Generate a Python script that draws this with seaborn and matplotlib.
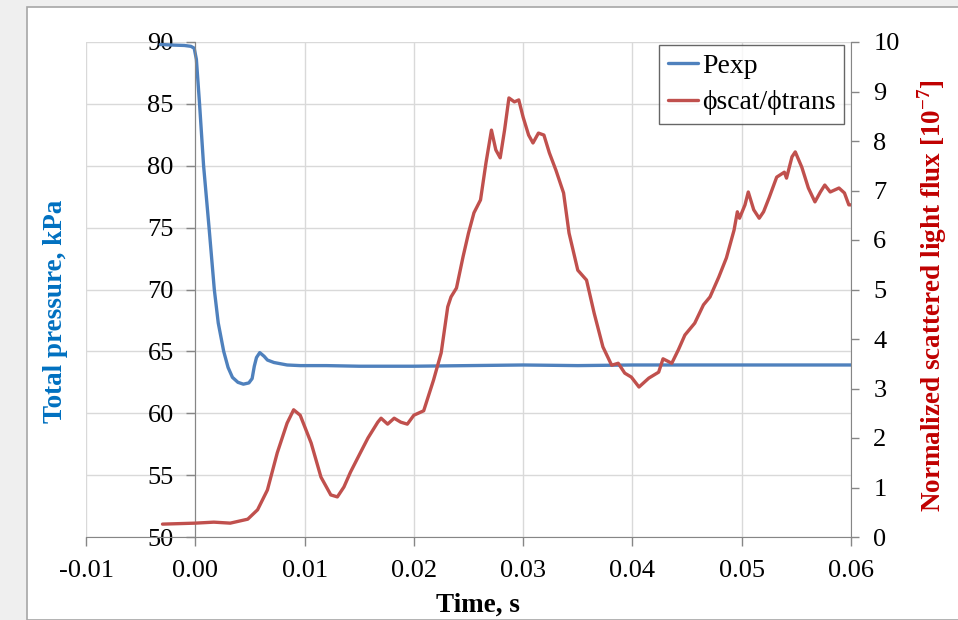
import pandas as pd
import numpy as np
import matplotlib
matplotlib.use('Agg')
import matplotlib.pyplot as plt
from matplotlib.patches import Rectangle
import seaborn as sns

# blue curve: total pressure (kPa)
t_pexp = [-0.0032, -0.002, -0.001, -0.0004, -0.0001, 0.0001, 0.00039, 0.00076, 0.00126, 0.00174,
          0.0021, 0.0026, 0.0030, 0.0034, 0.0039, 0.0044, 0.0049, 0.0052, 0.0054, 0.0056,
          0.0059, 0.0063, 0.0066, 0.0072, 0.0084, 0.0096, 0.012, 0.015, 0.02, 0.025,
          0.03, 0.035, 0.04, 0.045, 0.05, 0.055, 0.06]
p_exp = [89.8, 89.75, 89.72, 89.65, 89.5, 88.6, 85.0, 80.0, 75.0, 70.0,
         67.3, 65.0, 63.7, 62.9, 62.5, 62.35, 62.45, 62.8, 63.8, 64.5,
         64.9, 64.6, 64.3, 64.1, 63.9, 63.85, 63.85, 63.8, 63.8, 63.85,
         63.9, 63.85, 63.9, 63.9, 63.9, 63.9, 63.9]

# red curve: normalized scattered light flux (1e-7)
t_scat = [-0.0030, -0.0015, 0.0, 0.0017, 0.0032, 0.0048, 0.0057, 0.0066, 0.0075, 0.0084,
          0.0090, 0.0096, 0.0106, 0.0115, 0.0124, 0.0130, 0.0136, 0.0142, 0.0151, 0.0158,
          0.0167, 0.0170, 0.0176, 0.0182, 0.0188, 0.0194, 0.0200, 0.0209, 0.0218, 0.0225,
          0.0231, 0.0234, 0.0239, 0.0245, 0.0250, 0.0255, 0.0261, 0.0266, 0.0271, 0.0275,
          0.0279, 0.0283, 0.0287, 0.0292, 0.0296, 0.0300, 0.0305, 0.0309, 0.0314, 0.0319,
          0.0324, 0.0330, 0.0337, 0.0342, 0.0350, 0.0358, 0.0365, 0.0373, 0.0381, 0.0387,
          0.0393, 0.0399, 0.0406, 0.0415, 0.0424, 0.0428, 0.0436, 0.0442, 0.0448, 0.0457,
          0.0465, 0.0471, 0.0479, 0.0486, 0.0493, 0.0496, 0.0498, 0.0503, 0.0506, 0.0511,
          0.0516, 0.0520, 0.0525, 0.0532, 0.0539, 0.0541, 0.0546, 0.0549, 0.0555, 0.0561,
          0.0567, 0.0572, 0.0576, 0.0581, 0.0589, 0.0594, 0.0598, 0.0600]
scat_ratio = [0.26, 0.27, 0.28, 0.30, 0.28, 0.36, 0.55, 0.95, 1.70, 2.30,
              2.57, 2.46, 1.90, 1.21, 0.85, 0.81, 1.01, 1.31, 1.70, 2.00,
              2.32, 2.40, 2.28, 2.40, 2.32, 2.28, 2.46, 2.55, 3.17, 3.72,
              4.65, 4.85, 5.03, 5.66, 6.14, 6.55, 6.81, 7.56, 8.22, 7.82,
              7.66, 8.22, 8.87, 8.79, 8.83, 8.48, 8.12, 7.96, 8.16, 8.12,
              7.76, 7.41, 6.95, 6.14, 5.39, 5.19, 4.52, 3.84, 3.47, 3.51,
              3.31, 3.23, 3.03, 3.21, 3.33, 3.60, 3.51, 3.78, 4.08, 4.32,
              4.69, 4.85, 5.25, 5.64, 6.20, 6.57, 6.44, 6.71, 6.97, 6.61,
              6.44, 6.57, 6.85, 7.27, 7.37, 7.25, 7.68, 7.78, 7.47, 7.05,
              6.77, 6.97, 7.11, 6.97, 7.05, 6.95, 6.71, 6.71]

x_ticks = [-0.01, 0.0, 0.01, 0.02, 0.03, 0.04, 0.05, 0.06]
x_labels = ['-0.01', '0.00', '0.01', '0.02', '0.03', '0.04', '0.05', '0.06']
left_ticks = [50, 55, 60, 65, 70, 75, 80, 85, 90]
right_ticks = [0, 1, 2, 3, 4, 5, 6, 7, 8, 9, 10]

sns.set_style('white')
plt.rcParams['font.family'] = ['Liberation Serif', 'DejaVu Serif']
plt.rcParams['mathtext.fontset'] = 'custom'
plt.rcParams['mathtext.rm'] = 'Liberation Serif'
plt.rcParams['mathtext.bf'] = 'Liberation Serif:bold'
plt.rcParams['axes.unicode_minus'] = False
plt.rcParams['text.color'] = 'black'
plt.rcParams['xtick.color'] = 'black'
plt.rcParams['ytick.color'] = 'black'

df_p = pd.DataFrame({'t': t_pexp, 'p': p_exp})
df_s = pd.DataFrame({'t': t_scat, 's': scat_ratio})

fig = plt.figure(figsize=(9.58, 6.2), dpi=100)
fig.patch.set_facecolor('#EFEFEF')
fig.patches.append(Rectangle((27 / 958, 0), 1, 1 - 7 / 620, transform=fig.transFigure,
                             facecolor='white', edgecolor='#A6A6A6', linewidth=1.2, zorder=-10))

ax = fig.add_axes([86 / 958, 83 / 620, 765 / 958, 495 / 620])
ax.set_facecolor('none')
ax2 = ax.twinx()

blue = '#4F81BD'
red = '#C0504D'
sns.lineplot(data=df_p, x='t', y='p', ax=ax, color=blue, linewidth=2.4, estimator=None, label='Pexp', legend=False)
sns.lineplot(data=df_s, x='t', y='s', ax=ax2, color=red, linewidth=2.4, estimator=None, label='ϕscat/ϕtrans', legend=False)

ax.set_xlim(-0.01, 0.06)
ax.set_ylim(50, 90)
ax2.set_ylim(0, 10)
ax.set_xticks(x_ticks)
ax.set_xticklabels(x_labels)
ax.set_yticks(left_ticks)
ax2.set_yticks(right_ticks)

ax.grid(True, color='#D9D9D9', linewidth=1.0)
ax2.grid(False)

for s in ['top', 'right']:
    ax.spines[s].set_visible(False)
ax.spines['left'].set_position(('data', 0))
ax.spines['left'].set_color('#868686')
ax.spines['bottom'].set_color('#868686')
for s in ['top', 'left', 'bottom']:
    ax2.spines[s].set_visible(False)
ax2.spines['right'].set_color('#868686')

ax.tick_params(axis='x', direction='out', length=6.5, width=1, color='#868686', pad=10, labelsize=19, bottom=True)
ax.tick_params(axis='y', direction='out', length=6.5, width=1, color='#868686', pad=9, labelsize=19, left=True)
ax2.tick_params(axis='y', direction='out', length=6, width=1, color='#868686', pad=10, labelsize=19, right=True)

ax.set_xlabel('')
ax.set_ylabel('')
ax2.set_ylabel('')
fig.text(478 / 958, 1 - 605 / 620, 'Time, s', ha='center', va='center', fontsize=19.5, fontweight='bold')
fig.text(55 / 958, 1 - 311 / 620, 'Total pressure, kPa', ha='center', va='center', rotation=90,
         fontsize=19.5, fontweight='bold', color='#0070C0')
fig.text(932 / 958, 1 - 296 / 620, 'Normalized scattered light flux [10$^{\\mathbf{-7}}$]', ha='center', va='center',
         rotation=90, fontsize=19.5, fontweight='bold', color='#C00000')

h1, l1 = ax.get_legend_handles_labels()
h2, l2 = ax2.get_legend_handles_labels()
leg = ax2.legend(h1 + h2, l1 + l2, loc='upper right', bbox_to_anchor=(0.9915, 0.994),
                 fontsize=20, frameon=True, fancybox=False, edgecolor='#404040',
                 handlelength=1.1, handletextpad=0.15, borderpad=0.3, labelspacing=0.4, borderaxespad=0)
leg.get_frame().set_linewidth(1.0)

fig.savefig('out.png', dpi=100)
